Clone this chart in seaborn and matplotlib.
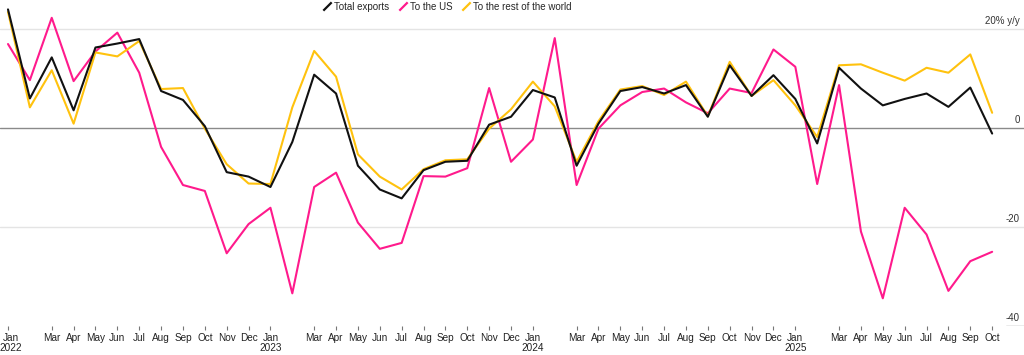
import numpy as np
import pandas as pd
import matplotlib
matplotlib.use("Agg")
import matplotlib.pyplot as plt
import matplotlib.transforms as mtransforms
from matplotlib.lines import Line2D
import seaborn as sns

months = pd.date_range("2022-01-01", "2025-10-01", freq="MS")

total_exports = [24.0, 6.0, 14.3, 3.6, 16.3, 17.1, 18.0, 7.5, 5.7, 0.4, -8.9, -9.8,
                 -11.9, -2.8, 10.8, 7.0, -7.6, -12.4, -14.2, -8.5, -6.8, -6.6, 0.7, 2.3,
                 7.7, 6.2, -7.6, 0.9, 7.5, 8.3, 7.0, 8.7, 2.3, 12.7, 6.5, 10.7,
                 5.9, -3.1, 12.2, 8.0, 4.6, 5.9, 7.0, 4.3, 8.2, -1.1]
to_us = [17.0, 9.7, 22.3, 9.5, 15.5, 19.3, 11.2, -3.8, -11.5, -12.7, -25.3, -19.4,
         -16.1, -33.4, -11.9, -9.0, -19.1, -24.4, -23.2, -9.7, -9.8, -8.1, 8.1, -6.8,
         -2.3, 18.2, -11.5, -0.1, 4.6, 7.3, 8.0, 5.2, 3.0, 8.0, 7.1, 15.9,
         12.4, -11.3, 8.7, -20.9, -34.4, -16.1, -21.5, -32.9, -26.9, -25.0]
to_rest = [23.5, 4.2, 11.7, 0.9, 15.3, 14.5, 17.6, 7.9, 8.1, -0.1, -7.3, -11.2,
           -11.3, 4.2, 15.6, 10.4, -5.3, -9.8, -12.4, -8.3, -6.5, -6.3, -0.1, 3.8,
           9.4, 4.4, -6.8, 1.4, 7.8, 8.5, 6.7, 9.4, 2.4, 13.4, 6.5, 9.7,
           4.6, -1.8, 12.7, 12.9, 11.2, 9.6, 12.2, 11.2, 14.9, 3.1]

series_names = ["Total exports", "To the US", "To the rest of the world"]
colors = ["#111111", "#ff1a8c", "#ffc20e"]
y_ticks = [20, 0, -20, -40]
y_labels = ["20% y/y", "0", "-20", "-40"]

idx = np.arange(len(months))
df = pd.DataFrame({
    "i": np.tile(idx, 3),
    "value": total_exports + to_us + to_rest,
    "series": np.repeat(series_names, len(months)),
})

sns.set_style("white")
plt.rcParams["font.family"] = ["Liberation Sans", "DejaVu Sans"]

fig = plt.figure(figsize=(10.24, 3.55), dpi=100)
ax = fig.add_axes([0.0, 29 / 355, 1.0, 326 / 355])

for v in [20, -20]:
    ax.axhline(v, color="#e4e4e4", lw=1.0, zorder=0)
ax.axhline(0, color="#8a8a8a", lw=1.0, zorder=1)
ax.axhline(-40, xmin=0.982, xmax=1.0, color="#9a9a9a", lw=1.0, zorder=1)

order = ["To the US", "To the rest of the world", "Total exports"]
pal = dict(zip(series_names, colors))
for name in order:
    sns.lineplot(data=df[df.series == name], x="i", y="value", color=pal[name],
                 lw=1.5, ax=ax, legend=False, zorder=3 if name == "Total exports" else 2)

ax.set_xlim(-8 / 21.87, 1024 / 21.87 - 8 / 21.87)
ax.set_ylim(-40, 25.9)

for v, lab in zip(y_ticks, y_labels):
    ax.annotate(lab, xy=(0.996, v), xycoords=("axes fraction", "data"),
                xytext=(0, 2), textcoords="offset points", ha="right", va="bottom",
                fontsize=7, color="#333333")
ax.set_yticks([])

tick_pos = [i for i in idx if months[i].month != 2]
tick_lab = [months[i].strftime("%b") + ("\n" + str(months[i].year) if months[i].month == 1 else "")
            for i in tick_pos]
ax.set_xticks(tick_pos)
ax.set_xticklabels(tick_lab, fontsize=7.2, color="#222222", linespacing=1.05, va="top")
ax.tick_params(axis="x", direction="out", length=3, width=0.8, color="#777777", pad=2,
               bottom=True)
first = ax.get_xticklabels()[0]
first.set_transform(first.get_transform() +
                    mtransforms.ScaledTranslation(2.5 / 100, 0, fig.dpi_scale_trans))
ax.set_xlabel("")
ax.set_ylabel("")
for s in ax.spines.values():
    s.set_visible(False)

handles = [Line2D([], [], ls="none", marker=[(-1, -1), (1, 1)], markersize=6,
                  mew=1.6, color=c) for c in colors]
fig.legend(handles, series_names, loc="upper center", bbox_to_anchor=(0.437, 1.012),
           ncol=3, frameon=False, fontsize=7, handlelength=0.8, handletextpad=0.3,
           columnspacing=1.0, borderpad=0.1)

fig.savefig("out.png", dpi=100, facecolor="white")
